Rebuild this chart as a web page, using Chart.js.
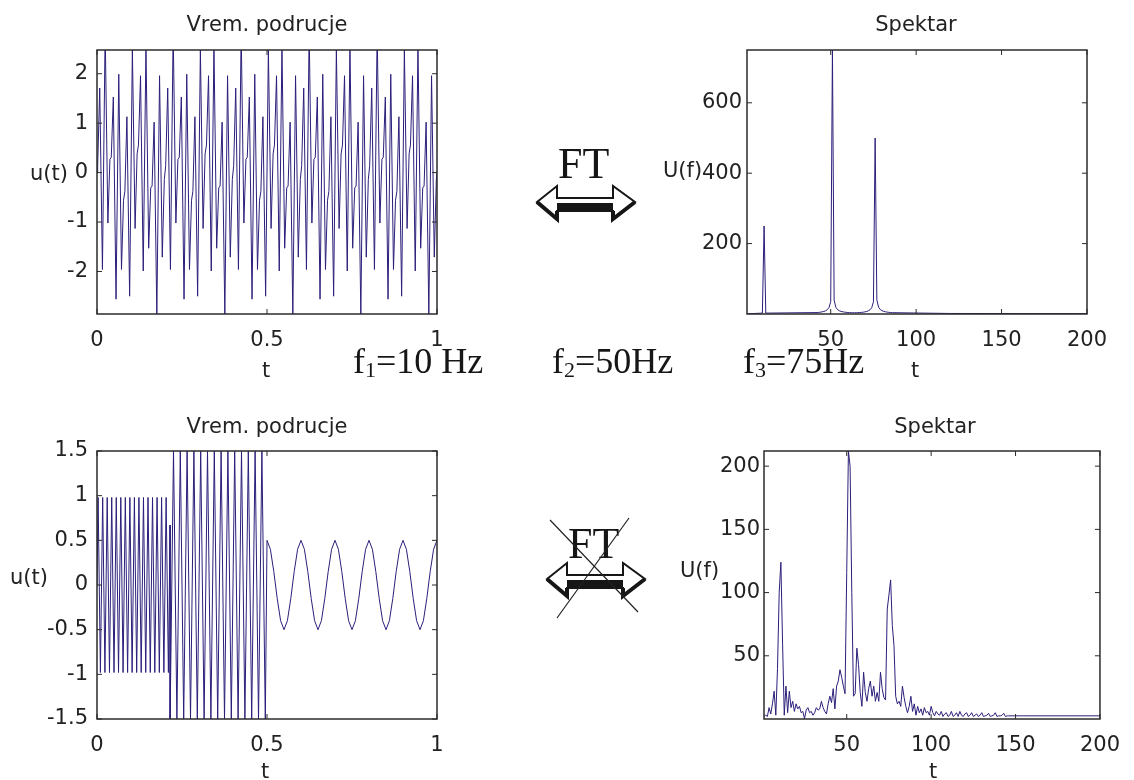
<!DOCTYPE html>
<html><head><meta charset="utf-8">
<script src="https://cdn.jsdelivr.net/npm/chart.js@4.4.1/dist/chart.umd.min.js"></script>
<style>
html,body{margin:0;padding:0;background:#fff;}
body{width:1134px;height:780px;position:relative;overflow:hidden;}
canvas{position:absolute;}
svg{position:absolute;left:0;top:0;}
</style></head><body>
<canvas id="tl" width="470" height="390" style="left:0;top:0"></canvas>
<canvas id="tr" width="484" height="390" style="left:650px;top:0"></canvas>
<canvas id="bl" width="470" height="390" style="left:0;top:390px"></canvas>
<canvas id="br" width="484" height="390" style="left:650px;top:390px"></canvas>
<svg width="1134" height="780" font-family="'Liberation Serif','Times New Roman',serif" fill="#161616">
  <text x="558" y="178" font-size="44">FT</text>
  <g id="arr">
    <polygon points="537,202 557,186 557,198 613,198 613,186 635,202 613,219 613,211 557,211 557,219" fill="#fff" stroke="#161616" stroke-width="2" stroke-linejoin="miter"/>
    <rect x="557" y="203" width="56" height="8" fill="#161616"/>
    <polyline points="537,202 557,219 557,211" fill="none" stroke="#161616" stroke-width="4"/>
    <polyline points="613,211 613,219 635,202" fill="none" stroke="#161616" stroke-width="4"/>
  </g>
  <text x="568" y="558" font-size="44">FT</text>
  <use href="#arr" transform="translate(10,377)"/>
  <line x1="550" y1="520" x2="638" y2="612" stroke="#222" stroke-width="1.2"/>
  <line x1="629" y1="518" x2="557" y2="618" stroke="#222" stroke-width="1.2"/>
  <text x="353" y="373" font-size="36">f<tspan font-size="22" dy="4">1</tspan><tspan dy="-4">=10 Hz</tspan></text>
  <text x="552" y="373" font-size="36">f<tspan font-size="22" dy="4">2</tspan><tspan dy="-4">=50Hz</tspan></text>
  <text x="743" y="373" font-size="36">f<tspan font-size="22" dy="4">3</tspan><tspan dy="-4">=75Hz</tspan></text>
</svg>
<script>
// ---------- data ----------
// top-left: time signal u(t), vertices (t in s)
const tlTime = [0,
 0.002,0.008,0.016,0.024,0.032,0.038,0.042,0.048,0.056,0.064,0.072,0.078,0.082,0.088,0.096,0.104,0.112,0.118,0.122,0.128,0.136,0.144,0.152,0.158,0.162,0.168,0.176,0.184,0.192,0.198,
 0.202,0.208,0.216,0.224,0.232,0.238,0.242,0.248,0.256,0.264,0.272,0.278,0.282,0.288,0.296,0.304,0.312,0.318,0.322,0.328,0.336,0.344,0.352,0.358,0.362,0.368,0.376,0.384,0.392,0.398,
 0.402,0.408,0.416,0.424,0.432,0.438,0.442,0.448,0.456,0.464,0.472,0.478,0.482,0.488,0.496,0.504,0.512,0.518,0.522,0.528,0.536,0.544,0.552,0.558,0.562,0.568,0.576,0.584,0.592,0.598,
 0.602,0.608,0.616,0.624,0.632,0.638,0.642,0.648,0.656,0.664,0.672,0.678,0.682,0.688,0.696,0.704,0.712,0.718,0.722,0.728,0.736,0.744,0.752,0.758,0.762,0.768,0.776,0.784,0.792,0.798,
 0.802,0.808,0.816,0.824,0.832,0.838,0.842,0.848,0.856,0.864,0.872,0.878,0.882,0.888,0.896,0.904,0.912,0.918,0.922,0.928,0.936,0.944,0.952,0.958,0.962,0.968,0.976,0.984,0.992,0.998,
 1.0];
const tlU = [0,
 0.14,1.71,-1.96,2.88,-1.02,0.27,0.31,1.53,-2.56,1.99,-1.96,-0.56,-0.38,1.13,-2.50,2.50,-1.13,0.38,0.56,1.96,-1.99,2.56,-1.53,-0.31,-0.27,1.02,-2.88,1.96,-1.71,-0.14,
 0.14,1.71,-1.96,2.88,-1.02,0.27,0.31,1.53,-2.56,1.99,-1.96,-0.56,-0.38,1.13,-2.50,2.50,-1.13,0.38,0.56,1.96,-1.99,2.56,-1.53,-0.31,-0.27,1.02,-2.88,1.96,-1.71,-0.14,
 0.14,1.71,-1.96,2.88,-1.02,0.27,0.31,1.53,-2.56,1.99,-1.96,-0.56,-0.38,1.13,-2.50,2.50,-1.13,0.38,0.56,1.96,-1.99,2.56,-1.53,-0.31,-0.27,1.02,-2.88,1.96,-1.71,-0.14,
 0.14,1.71,-1.96,2.88,-1.02,0.27,0.31,1.53,-2.56,1.99,-1.96,-0.56,-0.38,1.13,-2.50,2.50,-1.13,0.38,0.56,1.96,-1.99,2.56,-1.53,-0.31,-0.27,1.02,-2.88,1.96,-1.71,-0.14,
 0.14,1.71,-1.96,2.88,-1.02,0.27,0.31,1.53,-2.56,1.99,-1.96,-0.56,-0.38,1.13,-2.50,2.50,-1.13,0.38,0.56,1.96,-1.99,2.56,-1.53,-0.31,-0.27,1.02,-2.88,1.96,-1.71,-0.14,
 0];

// top-right: spectrum |U(f)|, bin index
const trBin = [1,10,11,12,42,43,44,45,46,47,48,49,50,51,52,53,54,55,56,57,58,59,60,61,62,63,64,65,66,67,68,69,70,71,72,73,74,75,76,77,78,79,80,81,82,83,84,85,86,120,200];
const trU = [0.5,2.5,250,2.5,4.0,4.5,5.2,6.1,7.3,9.1,12.3,18.2,35.5,750,39.3,19.1,12.6,9.4,7.5,6.3,5.4,4.7,4.2,3.8,3.6,3.5,3.5,3.6,3.8,4.2,4.6,5.1,6.0,7.2,9.0,12.0,17.9,34.5,500,40.2,19.3,12.7,9.5,7.6,6.3,5.4,4.7,4.2,3.7,1.5,1.0];

// bottom-left: time signal u(t) — burst part (75 Hz then 50 Hz) vertices
const blBurstTime = [0,0.0033,0.01,0.0167,0.0233,0.03,0.0367,0.0433,0.05,0.0567,0.0633,0.07,0.0767,0.0833,0.09,0.0967,0.1033,0.11,0.1167,0.1233,0.13,0.1367,0.1433,0.15,0.1567,0.1633,0.17,0.1767,0.1833,0.19,0.1967,0.2033,0.21,
 0.2149,0.215,
 0.225,0.235,0.245,0.255,0.265,0.275,0.285,0.295,0.305,0.315,0.325,0.335,0.345,0.355,0.365,0.375,0.385,0.395,0.405,0.415,0.425,0.435,0.445,0.455,0.465,0.475,0.485,0.495,0.50];
const blBurstU = [0,0.98,-0.98,0.98,-0.98,0.98,-0.98,0.98,-0.98,0.98,-0.98,0.98,-0.98,0.98,-0.98,0.98,-0.98,0.98,-0.98,0.98,-0.98,0.98,-0.98,0.98,-0.98,0.98,-0.98,0.98,-0.98,0.98,-0.98,0.98,-0.98,
 0.67,-1.5,
 1.5,-1.5,1.5,-1.5,1.5,-1.5,1.5,-1.5,1.5,-1.5,1.5,-1.5,1.5,-1.5,1.5,-1.5,1.5,-1.5,1.5,-1.5,1.5,-1.5,1.5,-1.5,1.5,-1.5,1.5,-1.5,0.5];
// bottom-left: 10 Hz part
const blSlowTime = [0.50,0.51,0.52,0.53,0.54,0.55,0.56,0.57,0.58,0.59,0.60,0.61,0.62,0.63,0.64,0.65,0.66,0.67,0.68,0.69,0.70,0.71,0.72,0.73,0.74,0.75,0.76,0.77,0.78,0.79,0.80,0.81,0.82,0.83,0.84,0.85,0.86,0.87,0.88,0.89,0.90,0.91,0.92,0.93,0.94,0.95,0.96,0.97,0.98,0.99,1.00];
const blSlowU = [0.5,0.4,0.15,-0.15,-0.4,-0.5,-0.4,-0.15,0.15,0.4,
 0.5,0.4,0.15,-0.15,-0.4,-0.5,-0.4,-0.15,0.15,0.4,
 0.5,0.4,0.15,-0.15,-0.4,-0.5,-0.4,-0.15,0.15,0.4,
 0.5,0.4,0.15,-0.15,-0.4,-0.5,-0.4,-0.15,0.15,0.4,
 0.5,0.4,0.15,-0.15,-0.4,-0.5,-0.4,-0.15,0.15,0.4,
 0.5];

// bottom-right: spectrum |U(f)|, bin index
const brBin = [1,2,3,4,5,6,7,8,9,10,11,12,13,14,15,16,17,18,19,20,21,22,23,24,25,26,27,28,29,30,
 31,32,33,34,35,36,37,38,39,40,41,42,43,44,45,46,47,48,49,50,51,52,53,54,55,56,57,58,59,60,
 61,62,63,64,65,66,67,68,69,70,71,72,73,74,75,76,77,78,79,80,81,82,83,84,85,86,87,88,89,90,
 91,92,93,94,95,96,97,98,99,100,101,102,103,104,105,106,107,108,109,110,111,112,113,114,115,116,117,118,119,120,
 121,122,123,124,125,126,127,128,129,130,131,132,133,134,135,136,137,138,139,140,141,142,143,144,145,146,200];
const brU = [2,3,2,9,4,12,22,3,40,100,124,60,3,26,5,22,9,14,6,12,8,10,5,6,0.3,7,9,5,6,3,
 5,9,7,8,14,9,6,4,12,18,13,24,8,26,30,39,33,26,20,116,212,200,100,18,20,56,43,21,10,37,
 21,14,24,30,18,26,14,21,14,37,24,17,15,87,98,110,74,58,18,12,14,10,26,17,10,5,10,18,6,12,
 3,10,5,8,3,9,5,6,3,10,5,2.5,6,4,3,6,2,4,5,2,3,6,2,3,5,2,6,3,2,4,
 5,2,3,5,2,3,4,2,3,5,2,2.5,3,4.5,2,2.5,3,5,2,2.5,2.5,3,4.5,2,2.5,2.5,2.5];

// tick values
const tlXTicks = [0, 0.5, 1], tlYTicks = [-2, -1, 0, 1, 2];
const trXTicks = [50, 100, 150, 200], trYTicks = [200, 400, 600];
const blXTicks = [0, 0.5, 1], blYTicks = [-1.5, -1, -0.5, 0, 0.5, 1, 1.5];
const brXTicks = [50, 100, 150, 200], brYTicks = [50, 100, 150, 200];

// ---------- drawing ----------
Chart.defaults.font.family = '"DejaVu Sans", sans-serif';
Chart.defaults.font.size = 21;
Chart.defaults.color = '#222';
const LINE = '#2a1f7a';

const frame = {
  id: 'frame',
  afterDraw(chart, args, o) {
    const {ctx, chartArea: a} = chart;
    const x = chart.scales.x, y = chart.scales.y;
    ctx.save();
    ctx.strokeStyle = '#2b2b2b';
    ctx.lineWidth = 1.5;
    ctx.strokeRect(a.left, a.top, a.right - a.left, a.bottom - a.top);
    ctx.lineWidth = 1;
    const L = 5;
    ctx.beginPath();
    x.ticks.forEach(t => { const p = x.getPixelForValue(t.value);
      ctx.moveTo(p, a.bottom); ctx.lineTo(p, a.bottom - L); ctx.moveTo(p, a.top); ctx.lineTo(p, a.top + L); });
    y.ticks.forEach(t => { const p = y.getPixelForValue(t.value);
      ctx.moveTo(a.left, p); ctx.lineTo(a.left + L, p); ctx.moveTo(a.right, p); ctx.lineTo(a.right - L, p); });
    ctx.stroke();
    ctx.fillStyle = '#222';
    ctx.font = '21px "DejaVu Sans"';
    ctx.textBaseline = 'alphabetic';
    ctx.textAlign = 'center';
    ctx.fillText(o.title, o.title_x - o.ox, o.title_y - o.oy);
    ctx.fillText(o.xlabel, o.xl_x - o.ox, o.xl_y - o.oy);
    ctx.textAlign = 'left';
    ctx.fillText(o.ylabel, o.yl_x - o.ox, o.yl_y - o.oy);
    ctx.restore();
  }
};

function series(xs, ys) {
  return { data: xs.map((v, i) => ({x: v, y: ys[i]})), showLine: true,
    borderColor: LINE, borderWidth: 1, pointRadius: 0, tension: 0, fill: false };
}

function panel(id, box, area, xr, yr, xTicks, yTicks, datasets, txt, xPad, yPad) {
  const [cx, cy, cw, ch] = box, [L, T, R, B] = area;
  const fmt = v => String(v);
  return new Chart(document.getElementById(id), {
    type: 'scatter',
    data: { datasets },
    options: {
      responsive: false, animation: false, events: [],
      layout: { padding: { left: 0, top: T - cy, right: cx + cw - R, bottom: 0 } },
      plugins: { legend: {display: false}, tooltip: {enabled: false}, title: {display: false},
        frame: Object.assign({ox: cx, oy: cy}, txt) },
      scales: {
        x: { type: 'linear', min: xr[0], max: xr[1],
          grid: {display: false, drawTicks: false}, border: {display: false},
          afterFit: s => { s.height = cy + ch - B; },
          afterBuildTicks: s => { s.ticks = xTicks.map(v => ({value: v})); },
          ticks: { padding: xPad, maxRotation: 0, autoSkip: false, color: '#222', callback: fmt } },
        y: { type: 'linear', min: yr[0], max: yr[1],
          grid: {display: false, drawTicks: false}, border: {display: false},
          afterFit: s => { s.width = L - cx; },
          afterBuildTicks: s => { s.ticks = yTicks.map(v => ({value: v})); },
          ticks: { padding: yPad, autoSkip: false, color: '#222', callback: fmt } }
      }
    },
    plugins: [frame]
  });
}

panel('tl', [0, 0, 470, 390], [97, 50, 437, 314], [0, 1], [-2.86, 2.48], tlXTicks, tlYTicks,
  [series(tlTime, tlU)],
  {title: 'Vrem. podrucje', title_x: 267, title_y: 31, xlabel: 't', xl_x: 266, xl_y: 377, ylabel: 'u(t)', yl_x: 30, yl_y: 180}, 14, 9);
panel('tr', [650, 0, 484, 390], [747, 50, 1087, 314], [1, 200], [0, 750], trXTicks, trYTicks,
  [series(trBin, trU)],
  {title: 'Spektar', title_x: 916, title_y: 31, xlabel: 't', xl_x: 915, xl_y: 377, ylabel: 'U(f)', yl_x: 663, yl_y: 177}, 14, 5);
panel('bl', [0, 390, 470, 390], [97, 451, 437, 719], [0, 1], [-1.5, 1.5], blXTicks, blYTicks,
  [series(blBurstTime, blBurstU), series(blSlowTime, blSlowU)],
  {title: 'Vrem. podrucje', title_x: 267, title_y: 433, xlabel: 't', xl_x: 265, xl_y: 778, ylabel: 'u(t)', yl_x: 10, yl_y: 584}, 14, 9);
panel('br', [650, 390, 484, 390], [764, 451, 1106, 719], [1, 200], [0, 212], brXTicks, brYTicks,
  [series(brBin, brU)],
  {title: 'Spektar', title_x: 935, title_y: 433, xlabel: 't', xl_x: 933, xl_y: 778, ylabel: 'U(f)', yl_x: 680, yl_y: 577}, 14, 4);
</script>
</body></html>
